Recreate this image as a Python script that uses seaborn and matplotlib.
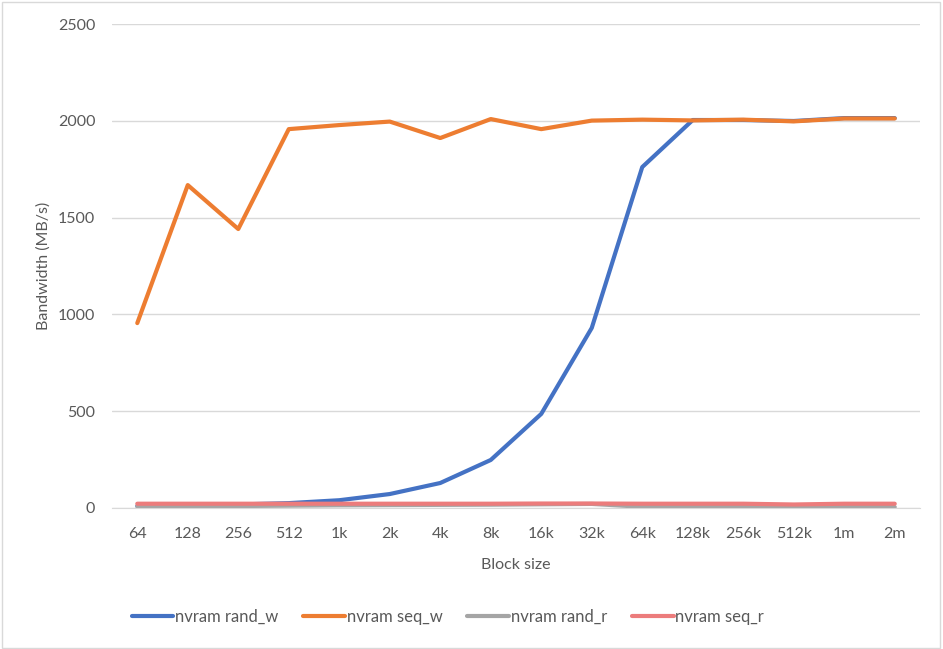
import pandas as pd
import matplotlib.pyplot as plt
import seaborn as sns

blocks = ['64', '128', '256', '512', '1k', '2k', '4k', '8k', '16k', '32k',
          '64k', '128k', '256k', '512k', '1m', '2m']
rand_w = [10, 13, 18, 25, 40, 72, 129, 248, 486, 930, 1761, 2004, 2004, 1999, 2014, 2014]
seq_w = [955, 1668, 1441, 1957, 1978, 1996, 1911, 2009, 1957, 2001, 2006, 2002, 2006, 1997, 2012, 2012]
rand_r = [8, 9, 10, 12, 14, 15, 16, 17, 19, 21, 6, 5, 5, 5, 5, 5]
seq_r = [22, 22, 22, 22, 22, 22, 22, 22, 23, 23, 22, 22, 22, 18, 22, 22]

names = ['nvram rand_w', 'nvram seq_w', 'nvram rand_r', 'nvram seq_r']
colors = ['#4472C4', '#ED7D31', '#A5A5A5', '#EC7C7C']

rows = []
for name, vals in zip(names, [rand_w, seq_w, rand_r, seq_r]):
    for i, v in enumerate(vals):
        rows.append({'pos': i, 'Block size': blocks[i], 'bw': v, 'series': name})
df = pd.DataFrame(rows)

sns.set_style("white")
plt.rcParams['font.family'] = ['Lato', 'DejaVu Sans']

fig = plt.figure(figsize=(9.43, 6.49), dpi=100)
ax = fig.add_axes([0.1188, 0.2173, 0.8568, 0.7457])

sns.lineplot(data=df, x='pos', y='bw', hue='series', hue_order=names,
             palette=colors, linewidth=3, ax=ax, legend=False)

ax.set_xlim(-0.5, len(blocks) - 0.5)
ax.set_ylim(0, 2500)
ax.set_xticks(range(len(blocks)))
ax.set_xticklabels(blocks)
ax.set_yticks(range(0, 2501, 500))
ax.yaxis.grid(True, color='#D9D9D9', linewidth=1)
ax.set_axisbelow(True)
for s in ['top', 'right', 'left']:
    ax.spines[s].set_visible(False)
ax.spines['bottom'].set_color('#D9D9D9')
ax.tick_params(axis='both', colors='#595959', labelsize=11.5, length=0)
ax.tick_params(axis='x', pad=14)
ax.tick_params(axis='y', pad=12)
ax.set_xlabel('Block size', color='#595959', fontsize=11.5, labelpad=12)
ax.set_ylabel('Bandwidth (MB/s)', color='#595959', fontsize=11.5, labelpad=5)

handles = [plt.Line2D([], [], color=c, lw=3) for c in colors]
fig.legend(handles, names, loc='center', bbox_to_anchor=(0.475, 0.049), ncol=4,
           frameon=False, fontsize=12, labelcolor='#595959', handlelength=2.5,
           handletextpad=0.1, columnspacing=1.5)

fig.patches.append(plt.Rectangle((0.002, 0.002), 0.995, 0.995, transform=fig.transFigure,
                                 fill=False, edgecolor='#D9D9D9', linewidth=1))

plt.savefig('out.png', dpi=100)
